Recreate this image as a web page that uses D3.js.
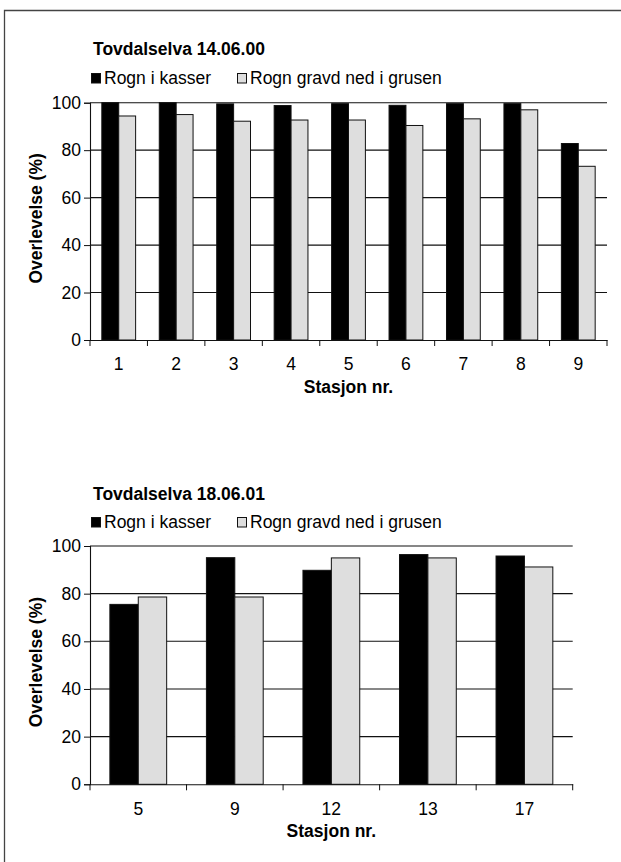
<!DOCTYPE html>
<html>
<head>
<meta charset="utf-8">
<script src="https://cdn.jsdelivr.net/npm/d3@7"></script>
<style>
  html, body { margin: 0; padding: 0; background: #fff; }
  svg { display: block; }
  text { font-family: "Liberation Sans", Arial, sans-serif; fill: #000; }
</style>
</head>
<body>
<svg id="chart" width="621" height="862"></svg>
<script>
// ---- data ----
const seriesNames = ["Rogn i kasser", "Rogn gravd ned i grusen"];
const seriesColors = ["#000000", "#dedede"];
const yTicks = [0, 20, 40, 60, 80, 100];

const title1 = "Tovdalselva 14.06.00";
const stations1 = ["1", "2", "3", "4", "5", "6", "7", "8", "9"];
const kasser1 = [100, 100, 99.5, 98.8, 99.6, 98.9, 99.6, 99.6, 82.8];
const grusen1 = [94.4, 95.0, 92.2, 92.7, 92.7, 90.4, 93.2, 97.0, 73.2];

const title2 = "Tovdalselva 18.06.01";
const stations2 = ["5", "9", "12", "13", "17"];
const kasser2 = [75.5, 95.1, 89.8, 96.4, 95.8];
const grusen2 = [78.6, 78.6, 95.0, 95.0, 91.2];

const yTitle = "Overlevelse (%)";
const xTitle = "Stasjon nr.";

// ---- drawing ----
const svg = d3.select("#chart");
const FS = 17.5;

// frame (top and left edges visible)
svg.append("path")
  .attr("d", "M4.5,862 L4.5,10.5 L621,10.5")
  .attr("fill", "none").attr("stroke", "#444").attr("stroke-width", 1.3);

function drawChart(o) {
  const g = svg.append("g");
  const x = d3.scaleBand().domain(o.cats).range([o.left, o.right]).paddingInner(0).paddingOuter(0);
  const y = d3.scaleLinear().domain([0, 100]).range([o.bottom, o.top]);
  const bw = x.bandwidth() / 3.4;
  const xs = d3.scaleBand().domain(seriesNames)
    .range([(x.bandwidth() - 2 * bw) / 2, (x.bandwidth() + 2 * bw) / 2]);

  // gridlines
  g.append("g").selectAll("line").data(yTicks.filter(t => t > 0)).join("line")
    .attr("x1", o.left).attr("x2", o.right)
    .attr("y1", d => y(d)).attr("y2", d => y(d))
    .attr("stroke", "#111").attr("stroke-width", 1.1);

  // bars
  const rows = o.cats.map((c, i) => ({ c, vals: [o.s1[i], o.s2[i]] }));
  const grp = g.append("g").selectAll("g").data(rows).join("g")
    .attr("transform", d => `translate(${x(d.c)},0)`);
  grp.selectAll("rect").data(d => d.vals.map((v, k) => ({ v, k }))).join("rect")
    .attr("x", d => xs(seriesNames[d.k]))
    .attr("width", xs.bandwidth())
    .attr("y", d => y(d.v))
    .attr("height", d => y(0) - y(d.v))
    .attr("fill", d => seriesColors[d.k])
    .attr("stroke", "#111").attr("stroke-width", 1);

  // y axis
  const ya = d3.axisLeft(y).tickValues(yTicks).tickSize(6).tickPadding(3).tickFormat(d3.format("d"));
  const yg = g.append("g").attr("transform", `translate(${o.left},0)`).call(ya);
  yg.select(".domain").attr("stroke", "#111").attr("stroke-width", 1.1);
  yg.selectAll(".tick line").attr("stroke", "#111");
  yg.selectAll(".tick text").attr("font-size", FS).attr("font-family", "Liberation Sans, Arial, sans-serif");

  // x axis: labels at centers, ticks at boundaries
  const xa = d3.axisBottom(x).tickSize(0).tickPadding(18);
  const xg = g.append("g").attr("transform", `translate(0,${o.bottom})`).call(xa);
  xg.select(".domain").attr("stroke", "#111").attr("stroke-width", 1.1);
  xg.selectAll(".tick text").attr("font-size", FS).attr("font-family", "Liberation Sans, Arial, sans-serif");
  const bounds = o.cats.map(c => x(c)).concat([o.right]);
  g.append("g").selectAll("line").data(bounds).join("line")
    .attr("x1", d => d).attr("x2", d => d)
    .attr("y1", o.bottom).attr("y2", o.bottom + 6)
    .attr("stroke", "#111");

  // titles
  g.append("text").attr("x", 93).attr("y", o.titleY)
    .attr("font-size", FS).attr("font-weight", "bold").text(o.title);
  g.append("text").attr("x", (o.left + o.right) / 2).attr("y", o.bottom + 52.5)
    .attr("text-anchor", "middle").attr("font-size", FS).attr("font-weight", "bold").text(xTitle);
  g.append("text")
    .attr("transform", `translate(42,${(o.top + o.bottom) / 2 - 3}) rotate(-90)`)
    .attr("text-anchor", "middle").attr("font-size", FS).attr("font-weight", "bold").text(yTitle);

  // legend
  const lx = [91.5, 237.5];
  seriesNames.forEach((name, k) => {
    g.append("rect").attr("x", lx[k]).attr("y", o.legendY - 10.5).attr("width", 9).attr("height", 9.5)
      .attr("fill", seriesColors[k]).attr("stroke", "#111").attr("stroke-width", 1);
    g.append("text").attr("x", lx[k] + 12.5).attr("y", o.legendY)
      .attr("font-size", FS).text(name);
  });
}

drawChart({ cats: stations1, s1: kasser1, s2: grusen1, title: title1,
  left: 90, right: 607, top: 102.7, bottom: 340, titleY: 55, legendY: 84 });
drawChart({ cats: stations2, s1: kasser2, s2: grusen2, title: title2,
  left: 90, right: 572.7, top: 546, bottom: 784.3, titleY: 500, legendY: 528 });
</script>
</body>
</html>
